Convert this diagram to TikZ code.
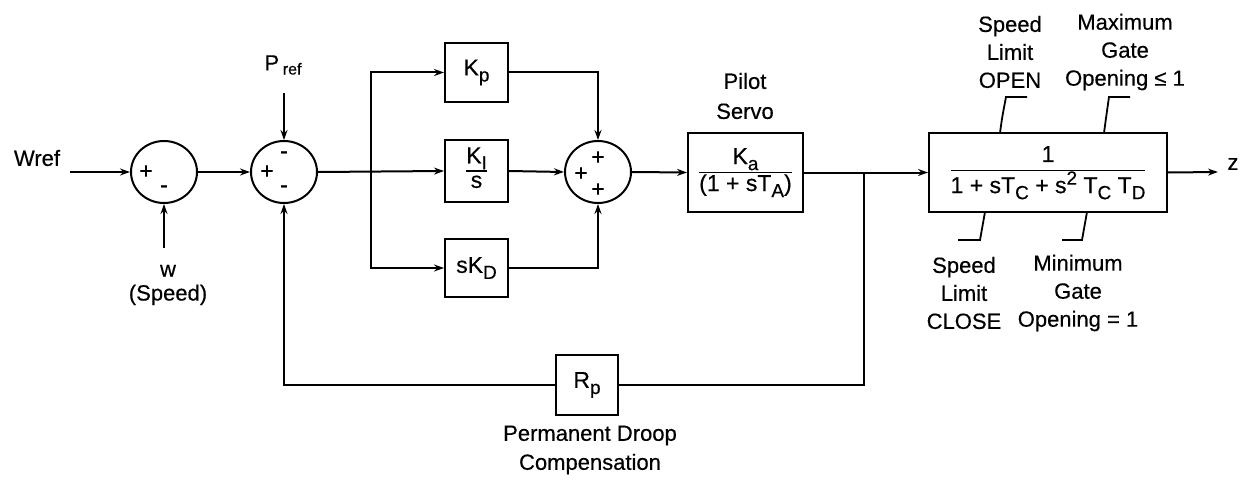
\documentclass[tikz,border=0pt]{standalone}
\usepackage{fontspec}
\setmainfont{Liberation Sans}[FakeBold=0.4]
\usetikzlibrary{arrows.meta,shapes.geometric}
\newcommand\lowsub[1]{\raisebox{-0.5ex}{\fontsize{19}{19}\selectfont #1}}
\begin{document}
\begin{tikzpicture}[x=1pt,y=-1pt,line width=2pt,
  txt/.style={font=\fontsize{22}{28}\selectfont,align=center,inner sep=0pt},
  sumnode/.style={draw,ellipse,minimum width=66pt,minimum height=62pt,inner sep=0pt},
  blk/.style={draw,rectangle,inner sep=0pt,font=\fontsize{23}{24}\selectfont},
  arr/.style={-{Stealth[length=10pt,width=7pt]}},
  sgn/.style={font=\fontsize{23}{23}\selectfont,inner sep=0pt},
  leader/.style={line width=1.8pt}]
\useasboundingbox (0,0) rectangle (1251,487);
% summing junctions
\node[sumnode] (s1) at (164,172) {};
\node[sumnode] (s2) at (284,172) {};
\node[sumnode] (s3) at (598,172) {};
\node[sgn] (s1p) at (146,172) {+};
\node[sgn] (s1m) at (164,189) {-};
\node[sgn] (s2p) at (267,172) {+};
\node[sgn] (s2mt) at (284,155) {-};
\node[sgn] (s2mb) at (284,189) {-};
\node[sgn] (s3p) at (581,174) {+};
\node[sgn] (s3pt) at (598,158) {+};
\node[sgn] (s3pb) at (598,190) {+};
% blocks
\node[blk,minimum width=63pt,minimum height=59pt] (kp) at (476.5,72.5) {K\lowsub{p}};
\node[blk,minimum width=63pt,minimum height=62pt] (ki) at (476.5,171)
  {\renewcommand\arraystretch{0.95}\setlength\arrayrulewidth{1.8pt}\begin{tabular}{@{}c@{}}K\lowsub{I}\\\hline s\end{tabular}};
\node[blk,minimum width=63pt,minimum height=58pt] (kd) at (476.5,268) {sK\lowsub{D}};
\node[blk,minimum width=115pt,minimum height=79pt] (pilot) at (745.5,172.5)
  {\renewcommand\arraystretch{1.05}\setlength\arrayrulewidth{1.8pt}\begin{tabular}{@{}c@{}}K\lowsub{a}\\\hline (1 + sT\lowsub{A})\end{tabular}};
\node[blk,minimum width=238pt,minimum height=79pt] (big) at (1048,172.5)
  {\renewcommand\arraystretch{1.05}\setlength\arrayrulewidth{1.8pt}\begin{tabular}{@{}c@{}}1\\\hline 1 + sT\lowsub{C} + s\raisebox{0.7ex}{\fontsize{19}{19}\selectfont 2} T\lowsub{C} T\lowsub{D}\end{tabular}};
\node[blk,minimum width=62pt,minimum height=60pt] (rp) at (587,385) {R\lowsub{p}};
% texts
\node[txt] (wref) at (37,158) {Wref};
\node[txt,font=\fontsize{22}{24}\selectfont] (wlab) at (168,285) {w\\(Speed)};
\node[txt] (pref) at (283,65) {P\,\raisebox{-0.35ex}{\fontsize{16}{16}\selectfont ref}};
\node[txt,font=\fontsize{22}{30}\selectfont] (pilotlab) at (745,96) {Pilot\\Servo};
\node[txt] (openlab) at (1010,52) {Speed\\Limit\\OPEN};
\node[txt] (maxlab) at (1125,52) {Maximum\\Gate\\Opening ≤ 1};
\node[txt] (closelab) at (964,293) {Speed\\Limit\\CLOSE};
\node[txt] (minlab) at (1078,293) {Minimum\\Gate\\Opening = 1};
\node[txt,font=\fontsize{22}{29}\selectfont] (droop) at (590,450) {Permanent Droop\\Compensation};
\node[txt] (z) at (1233,164) {z};
% connectors
\coordinate (wrefstart) at (70,172);
\coordinate (wbot) at (164,248);
\coordinate (preftop) at (284,93);
\coordinate (br) at (371,172);
\coordinate (fb) at (864,172);
\coordinate (zend) at (1218,172);
\draw[arr] (wrefstart) -- (s1.west);
\draw[arr] (s1.east) -- (s2.west);
\draw[arr] (wbot) -- (s1.south);
\draw[arr] (preftop) -- (s2.north);
\draw[arr] (s2.east) -- (ki.west);
\draw[arr] (br) |- (kp.west);
\draw[arr] (br) |- (kd.west);
\draw[arr] (kp.east) -| (s3.north);
\draw[arr] (ki.east) -- (s3.west);
\draw[arr] (kd.east) -| (s3.south);
\draw[arr] (s3.east) -- (pilot.west);
\draw[arr] (pilot.east) -- (big.west);
\draw (fb) |- (rp.east);
\draw[arr] (rp.west) -| (s2.south);
\draw[arr] (big.east) -- (zend);
% limit leaders
\draw[leader] (1000,133) .. controls (1002,118) .. (1006,97) -- (1027,97);
\draw[leader] (1104,133) .. controls (1106,118) .. (1109,97) -- (1130,97);
\draw[leader] (985,212) .. controls (983,226) .. (980,240) -- (958,240);
\draw[leader] (1087,212) .. controls (1085,226) .. (1082,240) -- (1062,240);
\end{tikzpicture}
\end{document}
